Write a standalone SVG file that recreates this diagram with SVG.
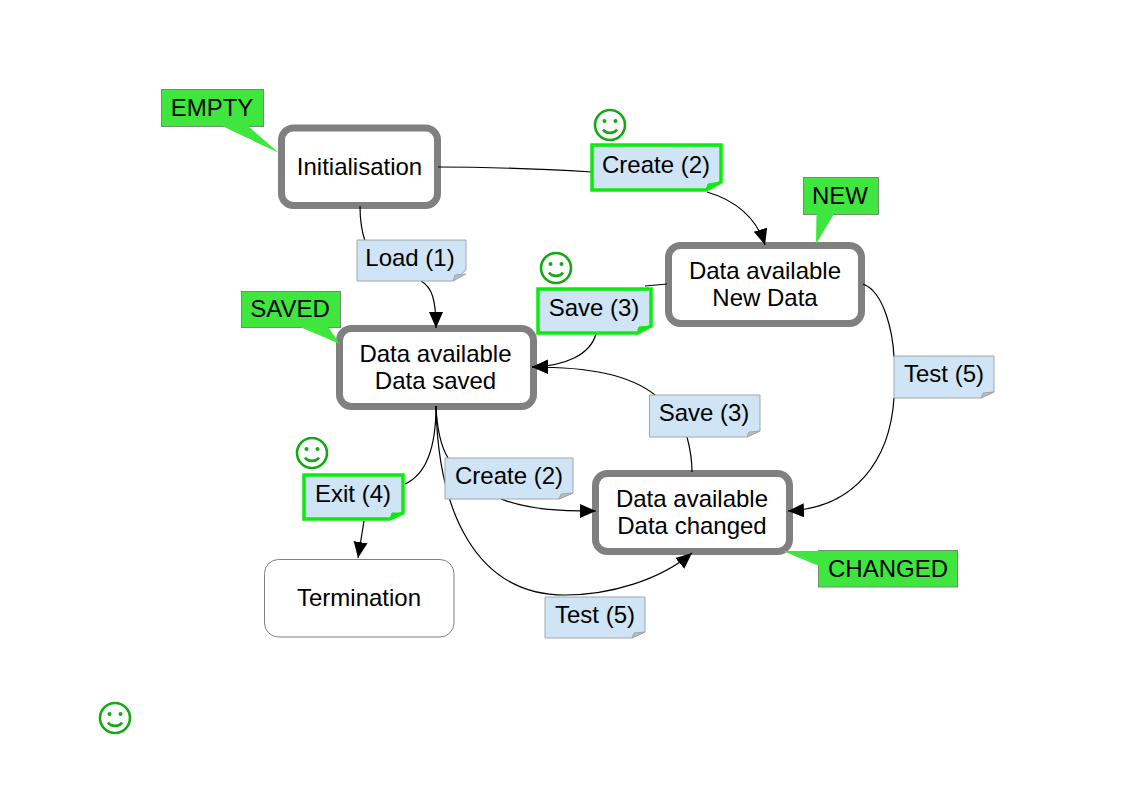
<svg xmlns="http://www.w3.org/2000/svg" width="1123" height="794" viewBox="0 0 1123 794">
<style>
text{font-family:"Liberation Sans",Arial,sans-serif;font-size:24px;fill:#000;text-anchor:middle}
.state{fill:#fff;stroke:#808080;stroke-width:7}
.term{fill:#fff;stroke:#808080;stroke-width:1}
.note{fill:#cfe4f4;stroke:#a0a8ae;stroke-width:1}
.fold{fill:#b4bcc4;stroke:#a0a8ae;stroke-width:1}
.hl{fill:#cfe4f4;stroke:#0cec0c;stroke-width:3.5}
.hlf{fill:#0cec0c;stroke:#0cec0c;stroke-width:1}
.tag{fill:#3ee63e;stroke:#6f8f6f;stroke-width:1}
.tail{fill:#3ee63e;stroke:none}
.c{fill:none;stroke:#000;stroke-width:1.2}
.a{marker-end:url(#arr)}
.sm{fill:none;stroke:#14a814;stroke-width:2.6}
.eye{fill:#14a814}
</style>
<defs>
<marker id="arr" markerUnits="userSpaceOnUse" markerWidth="18" markerHeight="16" refX="16" refY="8" orient="auto">
<path d="M0,1 L16,8 L0,15 Z" fill="#000"/>
</marker>
<g id="smile">
<circle class="sm" r="15"/><circle class="eye" cx="-5.500" cy="-4" r="2"/><circle class="eye" cx="5.500" cy="-4" r="2"/>
<path class="sm" d="M-7,4.500 C-4,9 4,9 7,4.500"/>
</g>
</defs>

<g id="node-init"><rect class="state" x="281.500" y="128" width="156" height="77.500" rx="12"/><text x="359.500" y="175">Initialisation</text></g>
<g id="node-new"><rect class="state" x="668.500" y="245.500" width="193" height="78" rx="12"/><text x="765" y="279">Data available</text><text x="765" y="306">New Data</text></g>
<g id="node-saved"><rect class="state" x="339.500" y="328.500" width="194" height="78" rx="12"/><text x="435.500" y="362">Data available</text><text x="435.500" y="389">Data saved</text></g>
<g id="node-changed"><rect class="state" x="595.500" y="473.500" width="194" height="78" rx="12"/><text x="692" y="507">Data available</text><text x="692" y="534">Data changed</text></g>
<g id="node-term"><rect class="term" x="264.500" y="559.500" width="189.500" height="77.500" rx="14"/><text x="359" y="606">Termination</text></g>

<g id="connectors">
<path class="c" d="M438,167 C480,167 540,169 592,172"/>
<path class="c a" d="M707,192 C735,200 757,218 765,245"/>
<path class="c" d="M360,206 C360,220 362,232 365,241"/>
<path class="c a" d="M421,281 C432,287 436,300 436,328"/>
<path class="c" d="M667,284 L645,286"/>
<path class="c a" d="M596,334 C590,355 565,366 532,367"/>
<path class="c" d="M863,284 C885,292 893,335 894,357"/>
<path class="c a" d="M894,398 C890,460 855,508 788,511"/>
<path class="c" d="M692,472 C692,458 690,448 687,437"/>
<path class="c a" d="M655,395 C630,375 590,367 532,367"/>
<path class="c" d="M436,406 C436,450 425,475 405,484"/>
<path class="c a" d="M364,521 L358,558"/>
<path class="c" d="M436,406 C437,430 442,448 448,458"/>
<path class="c a" d="M501,499 C530,510 560,511 596,511"/>
<path class="c a" d="M436,406 C438,510 475,595 565,595 C610,595 660,580 692,553"/>
</g>

<g id="note-load"><path class="note" d="M357,240 H466 V270 L453,281 H357 Z"/><path class="fold" d="M453,281 L455,275 L466,274 Z"/><text x="410" y="266">Load (1)</text></g>
<g id="note-create-hl"><path class="hl" d="M592,145 H721 V182 L706,190 H592 Z"/><path class="hlf" d="M706,190 L708,184 L721,182 Z"/><text x="656" y="173">Create (2)</text></g>
<g id="note-save-hl"><path class="hl" d="M538,289 H651 V326 L637,333 H538 Z"/><path class="hlf" d="M637,333 L639,327 L651,326 Z"/><text x="594" y="316">Save (3)</text></g>
<g id="note-save"><path class="note" d="M649.500,395 H760 V431 L747,437 H649.500 Z"/><path class="fold" d="M747,437 L749,432 L760,431 Z"/><text x="704" y="421">Save (3)</text></g>
<g id="note-test1"><path class="note" d="M894,356 H994 V392 L981,398 H894 Z"/><path class="fold" d="M981,398 L983,393 L994,392 Z"/><text x="944" y="382">Test (5)</text></g>
<g id="note-create"><path class="note" d="M445,458 H573 V493 L559,499 H445 Z"/><path class="fold" d="M559,499 L561,494 L573,493 Z"/><text x="509" y="484">Create (2)</text></g>
<g id="note-test2"><path class="note" d="M545,597 H645 V632 L632,638 H545 Z"/><path class="fold" d="M632,638 L634,633 L645,632 Z"/><text x="595" y="623">Test (5)</text></g>
<g id="note-exit"><path class="hl" d="M304,475 H403 V513 L390,519 H304 Z"/><path class="hlf" d="M390,519 L392,513 L403,513 Z"/><text x="353" y="502">Exit (4)</text></g>

<g id="tag-empty"><rect class="tag" x="161.500" y="89.500" width="102" height="37"/><path class="tail" d="M222,126 L279,153 L248,126 Z"/><text x="212" y="116">EMPTY</text></g>
<g id="tag-new"><rect class="tag" x="803.500" y="177.500" width="75" height="37"/><path class="tail" d="M816.500,214 L816,244 L834,214 Z"/><text x="840" y="204">NEW</text></g>
<g id="tag-saved"><rect class="tag" x="241.500" y="291.500" width="99" height="36"/><path class="tail" d="M300,327 L340,344 L328,327 Z"/><text x="290" y="317">SAVED</text></g>
<g id="tag-changed"><rect class="tag" x="818.500" y="550.500" width="139" height="36.500"/><path class="tail" d="M819,551 L783,551 L819,566 Z"/><text x="888" y="577">CHANGED</text></g>

<use id="smile-1" href="#smile" x="610" y="125"/>
<use id="smile-2" href="#smile" x="556" y="268"/>
<use id="smile-3" href="#smile" x="312" y="453"/>
<use id="smile-4" href="#smile" x="115" y="718"/>
</svg>
